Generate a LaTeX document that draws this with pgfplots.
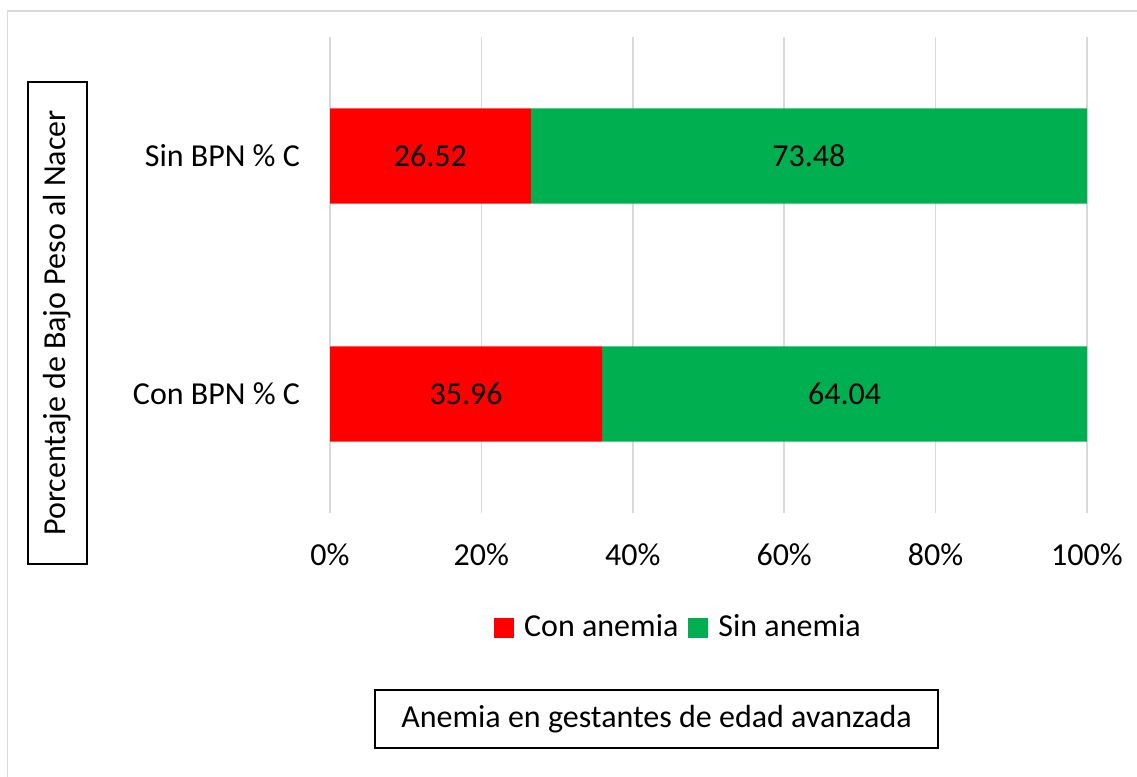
\documentclass[border=0pt]{standalone}
\usepackage{fontspec}
\setmainfont{Carlito}
\usepackage{pgfplots}
\pgfplotsset{compat=1.18}
\definecolor{conan}{HTML}{FF0000}
\definecolor{sinan}{HTML}{00B050}
\definecolor{gridc}{HTML}{D9D9D9}

\begin{document}
\fontsize{16}{19}\selectfont
\begin{tikzpicture}
\useasboundingbox (0pt,0pt) rectangle (568.5pt,388.5pt);
% outer chart frame
\draw[gridc,line width=0.75pt] (3.75pt,0pt) -- (3.75pt,383pt) -- (568.5pt,383pt);
\begin{axis}[
  at={(165pt,132pt)}, anchor=south west,
  scale only axis, width=378.5pt, height=238pt,
  xbar stacked, bar width=0.4,
  xmin=0, xmax=100, ymin=-0.5, ymax=1.5,
  ytick={0,1}, yticklabels={Con BPN \% C,Sin BPN \% C},
  xtick={0,20,40,60,80,100},
  xticklabel={\pgfmathprintnumber{\tick}\%},
  /pgf/number format/assume math mode=true,
  xmajorgrids=true, grid style={gridc,line width=0.75pt},
  axis line style={draw=none}, major tick length=0pt,
  xticklabel style={anchor=center,yshift=-21pt,font=\fontsize{16}{19}\selectfont},
  yticklabel style={anchor=east,xshift=-9.5pt,font=\fontsize{16}{19}\selectfont},
  legend columns=2,
  legend style={at={(0.4617,-0.2416)},anchor=center,draw=none,fill=none,
    font=\fontsize{16}{19}\selectfont,column sep=3pt},
  legend image code/.code={\fill[#1] (0pt,-5pt) rectangle (10pt,5pt);},
]
\addplot[fill=conan,draw=none] coordinates {(35.96,0) (26.52,1)};
\addlegendentry{Con anemia}
\addplot[fill=sinan,draw=none] coordinates {(64.04,0) (73.48,1)};
\addlegendentry{Sin anemia}
\coordinate (c1) at (axis cs:17.98,0);
\coordinate (c2) at (axis cs:67.98,0);
\coordinate (s1) at (axis cs:13.26,1);
\coordinate (s2) at (axis cs:63.26,1);
\end{axis}
% value labels centred in the bar segments
\node at (c1) {35.96};
\node at (c2) {64.04};
\node at (s1) {26.52};
\node at (s2) {73.48};
% boxed axis titles
\node[draw=black,line width=0.75pt,rotate=90,minimum width=241pt,minimum height=29.5pt,inner sep=0pt]
  at (28.75pt,227pt) {Porcentaje de Bajo Peso al Nacer};
\node[draw=black,line width=0.75pt,minimum width=281.5pt,minimum height=29pt,inner sep=0pt]
  at (328.25pt,29pt) {Anemia en gestantes de edad avanzada};
\end{tikzpicture}
\end{document}
